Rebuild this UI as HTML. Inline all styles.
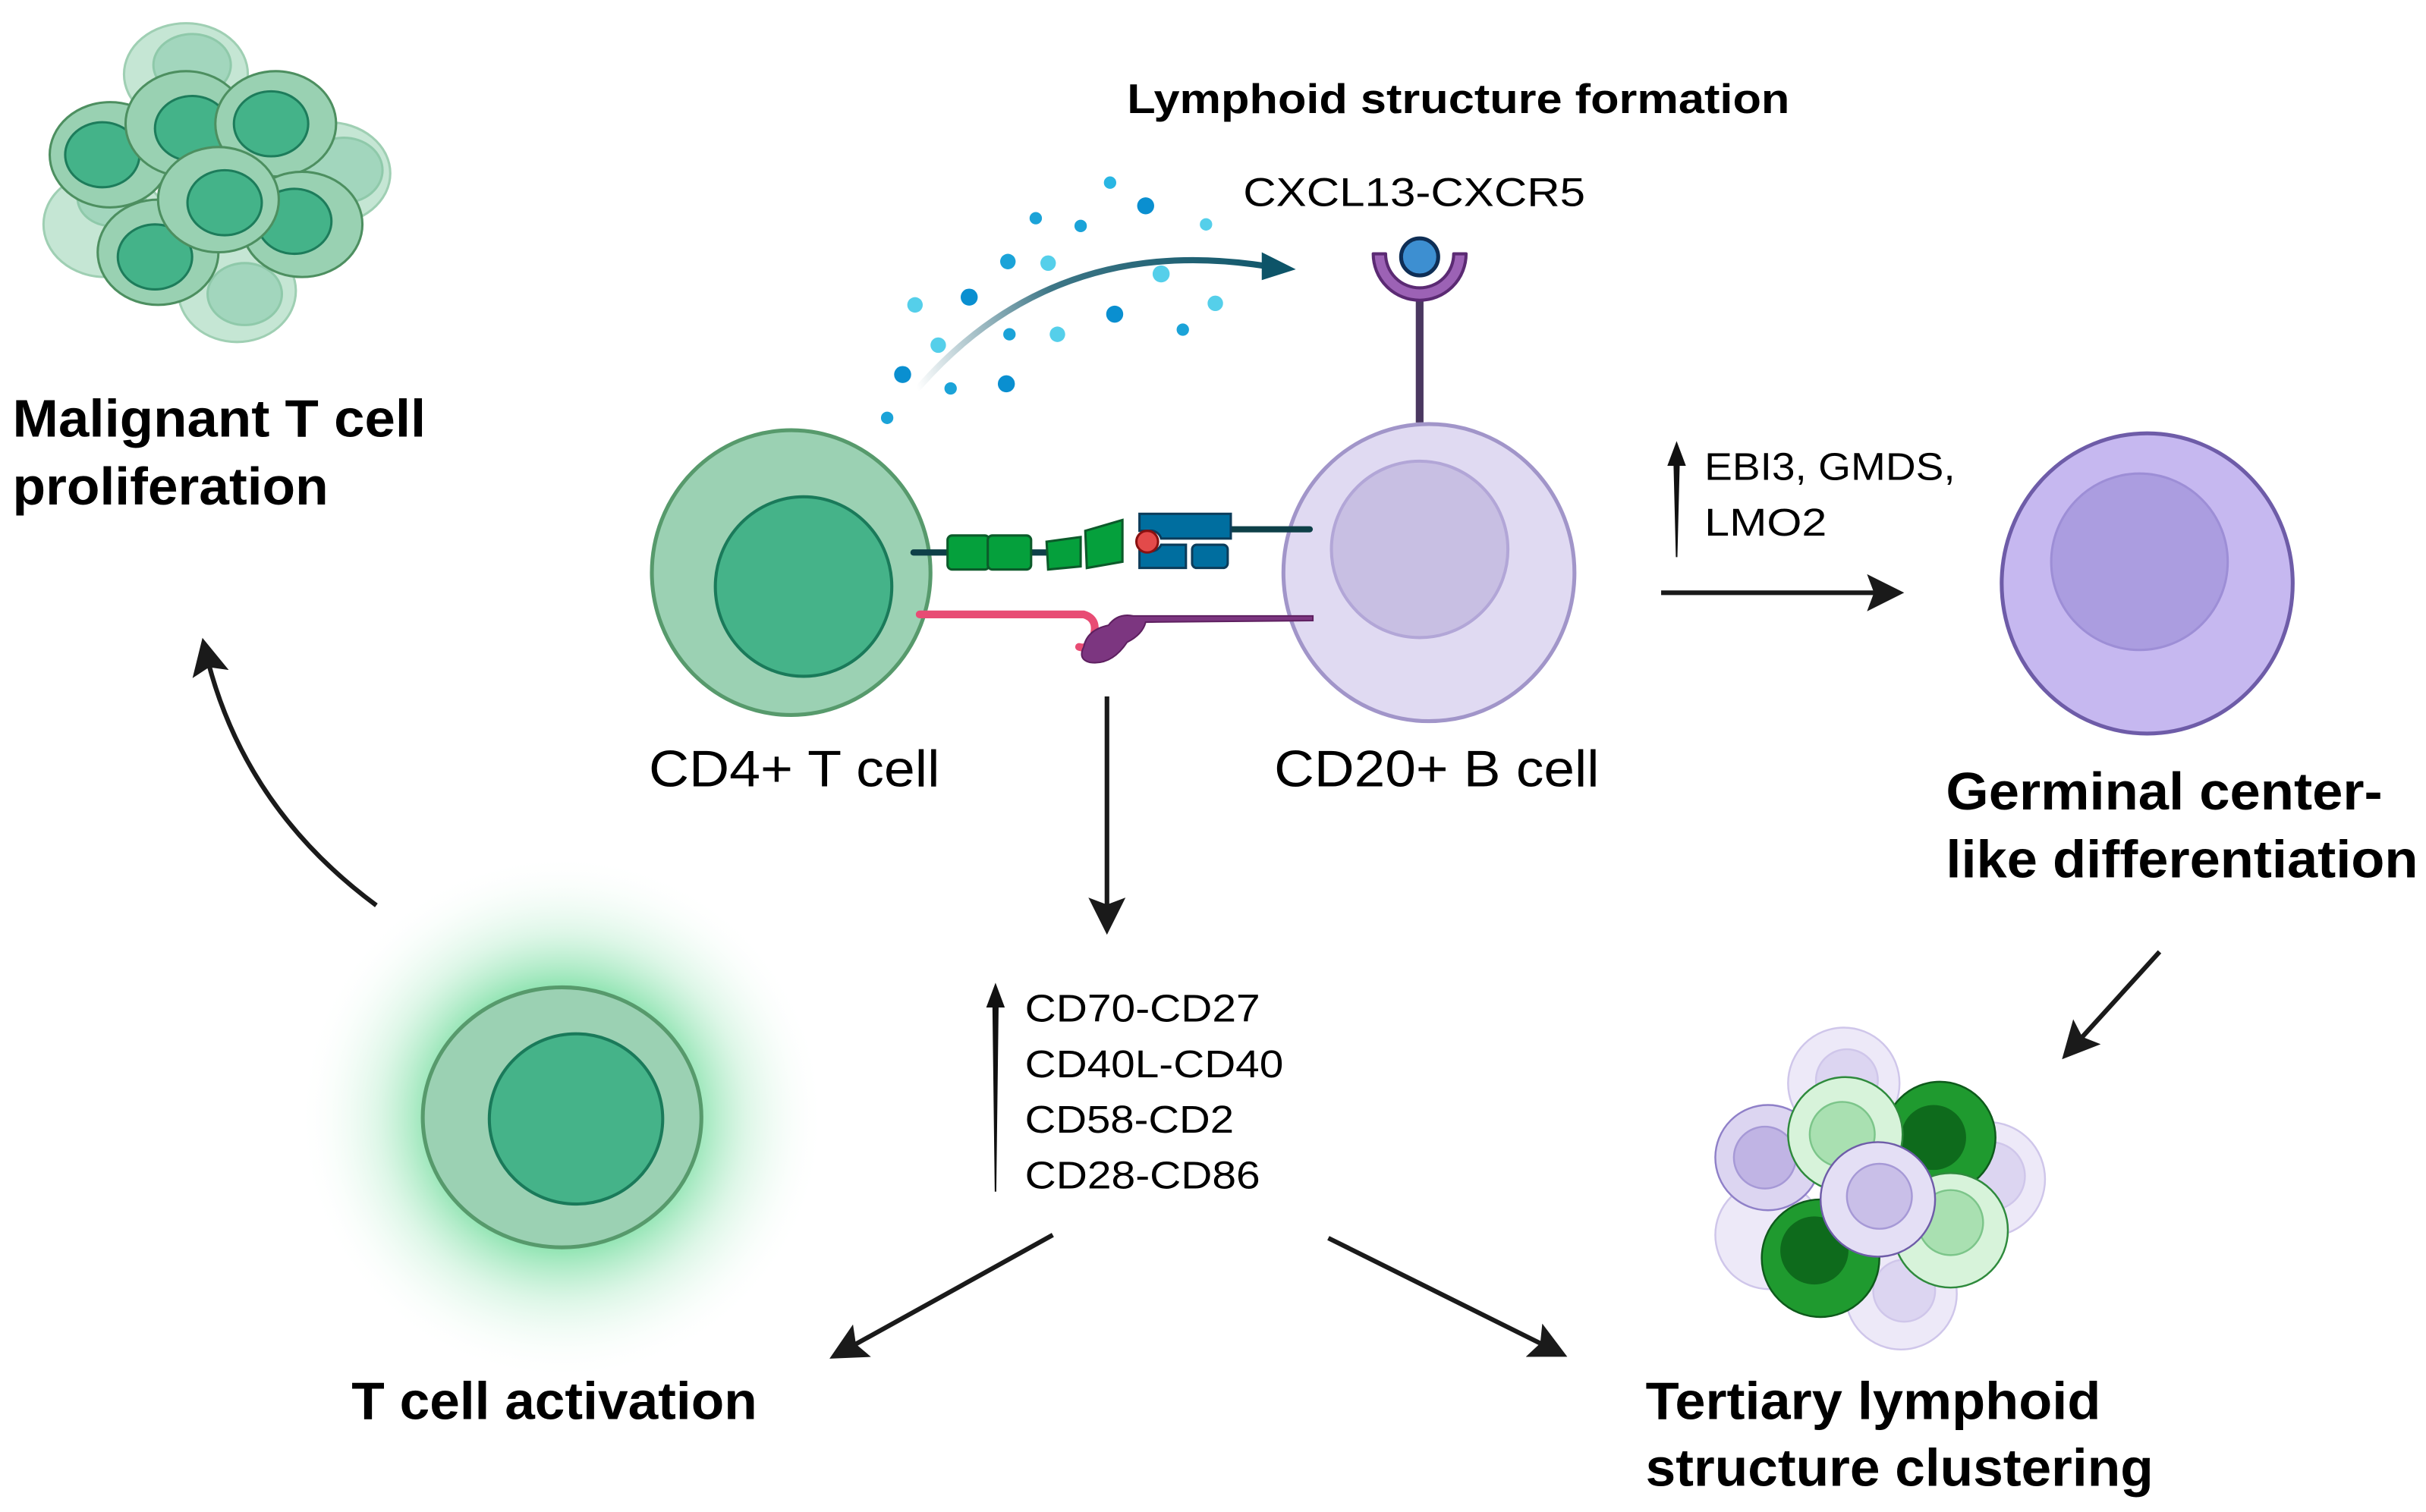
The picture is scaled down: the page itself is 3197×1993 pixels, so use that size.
<!DOCTYPE html>
<html><head><meta charset="utf-8"><style>html,body{margin:0;padding:0;background:#fff}svg{display:block}</style></head>
<body>
<svg width="3197" height="1993" viewBox="0 0 1567 977" xmlns="http://www.w3.org/2000/svg" font-family="Liberation Sans, sans-serif">
<defs>
<radialGradient id="glow" cx="0.5" cy="0.5" r="0.5">
<stop offset="0.45" stop-color="#3fd07a" stop-opacity="0.7"/>
<stop offset="0.7" stop-color="#8fe3b0" stop-opacity="0.3"/>
<stop offset="1" stop-color="#ffffff" stop-opacity="0"/>
</radialGradient>
<linearGradient id="arcg" x1="592" y1="250" x2="835" y2="172" gradientUnits="userSpaceOnUse">
<stop offset="0" stop-color="#0d5468" stop-opacity="0"/>
<stop offset="0.4" stop-color="#0d5468" stop-opacity="0.8"/>
<stop offset="1" stop-color="#0d5468"/>
</linearGradient>
<marker id="ah" markerWidth="9" markerHeight="9" refX="6" refY="4.5" orient="auto" markerUnits="strokeWidth">
<path d="M0,0.5 L8,4.5 L0,8.5 L1.5,4.5 Z" fill="#1a1a1a"/>
</marker>
</defs>

<!-- Malignant cluster -->
<g stroke-width="1.5">
<g fill="#c5e6d4" stroke="#9fcfb3">
<ellipse cx="120" cy="48" rx="40" ry="33"/><ellipse cx="212" cy="112" rx="40" ry="33"/>
<ellipse cx="68" cy="145" rx="40" ry="34"/><ellipse cx="153" cy="188" rx="38" ry="33"/>
</g>
<g fill="#a2d6bd" stroke="#8fc9aa">
<ellipse cx="124" cy="42" rx="25" ry="20"/><ellipse cx="222" cy="110" rx="25" ry="21"/>
<ellipse cx="72" cy="128" rx="22" ry="18"/><ellipse cx="158" cy="190" rx="24" ry="20"/>
</g>
<g stroke="#4d8f60">
<ellipse cx="71" cy="100" rx="39" ry="34" fill="#99d1b2"/><ellipse cx="66" cy="100" rx="24" ry="21" fill="#44b389" stroke="#1d7c5b"/>
<ellipse cx="120" cy="80" rx="39" ry="34" fill="#99d1b2"/><ellipse cx="124" cy="83" rx="24" ry="21" fill="#44b389" stroke="#1d7c5b"/>
<ellipse cx="178" cy="80" rx="39" ry="34" fill="#99d1b2"/><ellipse cx="175" cy="80" rx="24" ry="21" fill="#44b389" stroke="#1d7c5b"/>
<ellipse cx="102" cy="163" rx="39" ry="34" fill="#99d1b2"/><ellipse cx="100" cy="166" rx="24" ry="21" fill="#44b389" stroke="#1d7c5b"/>
<ellipse cx="195" cy="145" rx="39" ry="34" fill="#99d1b2"/><ellipse cx="190" cy="143" rx="24" ry="21" fill="#44b389" stroke="#1d7c5b"/>
<ellipse cx="141" cy="129" rx="39" ry="34" fill="#99d1b2"/><ellipse cx="145" cy="131" rx="24" ry="21" fill="#44b389" stroke="#1d7c5b"/>
</g>
</g>
<text x="8" y="282" font-size="34" font-weight="bold" textLength="267" lengthAdjust="spacingAndGlyphs">Malignant T cell</text>
<text x="8" y="326" font-size="34" font-weight="bold" textLength="204" lengthAdjust="spacingAndGlyphs">proliferation</text>

<!-- title -->
<text x="728" y="73" font-size="27" font-weight="bold" textLength="428" lengthAdjust="spacingAndGlyphs">Lymphoid structure formation</text>
<text x="803" y="133" font-size="26" textLength="221" lengthAdjust="spacingAndGlyphs">CXCL13-CXCR5</text>

<!-- dots -->
<g fill="#1ba3d8">
<circle cx="717" cy="118" r="4" fill="#29b6e3"/><circle cx="740" cy="133" r="5.5" fill="#0a8fd0"/><circle cx="669" cy="141" r="4"/><circle cx="698" cy="146" r="4"/><circle cx="779" cy="145" r="4" fill="#55cfea"/>
<circle cx="750" cy="177" r="5.5" fill="#55cfea"/><circle cx="651" cy="169" r="5"/><circle cx="677" cy="170" r="5" fill="#55cfea"/><circle cx="626" cy="192" r="5.5" fill="#0a8fd0"/><circle cx="591" cy="197" r="5" fill="#55cfea"/>
<circle cx="785" cy="196" r="5" fill="#55cfea"/><circle cx="720" cy="203" r="5.5" fill="#0a8fd0"/><circle cx="764" cy="213" r="4"/><circle cx="652" cy="216" r="4"/><circle cx="683" cy="216" r="5" fill="#55cfea"/>
<circle cx="606" cy="223" r="5" fill="#55cfea"/><circle cx="583" cy="242" r="5.5" fill="#0a8fd0"/><circle cx="650" cy="248" r="5.5" fill="#0a8fd0"/><circle cx="614" cy="251" r="4"/><circle cx="573" cy="270" r="4"/>
</g>
<path d="M592,252 Q680,150 818,172" fill="none" stroke="url(#arcg)" stroke-width="4"/>
<path d="M815,163 L837,174 L815,181 Z" fill="#0d5468"/>

<!-- receptor -->
<line x1="917" y1="188" x2="917" y2="273" stroke="#4a3760" stroke-width="5"/>
<path d="M887,164 A30,30 0 0 0 947,164 L939,164 A22,22 0 0 1 895,164 Z" fill="#9c62b5" stroke="#5b2a73" stroke-width="2" stroke-linejoin="round"/>
<circle cx="917" cy="166" r="12" fill="#3d8fd1" stroke="#0e2e55" stroke-width="2.5"/>

<!-- T cell -->
<ellipse cx="511" cy="370" rx="90" ry="92" fill="#9bd1b3" stroke="#579a6c" stroke-width="2.5"/>
<ellipse cx="519" cy="379" rx="57" ry="58" fill="#45b389" stroke="#1a7a5a" stroke-width="2"/>
<!-- B cell -->
<ellipse cx="923" cy="370" rx="94" ry="96" fill="#e0daf2" stroke="#a195c9" stroke-width="2.5"/>
<ellipse cx="917" cy="355" rx="57" ry="57" fill="#c8bfe3" stroke="#b2a6d7" stroke-width="2"/>

<!-- molecules -->
<line x1="590" y1="357" x2="616" y2="357" stroke="#0e4048" stroke-width="4" stroke-linecap="round"/>
<line x1="660" y1="357" x2="680" y2="357" stroke="#0e4048" stroke-width="4"/>
<g fill="#05a03c" stroke="#0c5a2a" stroke-width="1.5">
<rect x="612" y="346" width="27" height="22" rx="3"/><rect x="638" y="346" width="28" height="22" rx="3"/>
<path d="M676,350 L698,347 L698,366 L677,368 Z"/><path d="M701,343 L725,336 L725,363 L702,367 Z"/>
</g>
<line x1="795" y1="342" x2="846" y2="342" stroke="#0e4048" stroke-width="4" stroke-linecap="round"/>
<g fill="#006e9f" stroke="#0c3c5a" stroke-width="1.5">
<path d="M736,332 L795,332 L795,348 L750,348 A7,7 0 0 0 742,343 L736,343 Z"/>
<path d="M736,356 L742,356 A7,7 0 0 0 750,352 L766,352 L766,367 L736,367 Z"/>
<rect x="770" y="352" width="23" height="15" rx="3"/>
</g>
<circle cx="741" cy="350" r="7" fill="#e34a4a" stroke="#8a1010" stroke-width="1.5"/>
<path d="M594,397 L700,397 Q710,400 706,412 Q703,420 697,418" fill="none" stroke="#e84c74" stroke-width="5" stroke-linecap="round"/>
<path d="M700,418 Q702,407 716,404 Q722,396 732,398 L848,398 L848,401 L740,402 Q738,410 728,415 Q718,430 704,428 Q696,426 700,418 Z" fill="#7c3680" stroke="#5e2060" stroke-width="1"/>

<text x="419" y="508" font-size="33" textLength="188" lengthAdjust="spacingAndGlyphs">CD4+ T cell</text>
<text x="823" y="508" font-size="33" textLength="210" lengthAdjust="spacingAndGlyphs">CD20+ B cell</text>

<!-- EBI3 -->
<path d="M1082.5,360 L1081,300 L1085,300 L1083.5,360 Z" fill="#111"/>
<path d="M1077,301 L1083,285 L1089,301 Z" fill="#111"/>
<text x="1101" y="310" font-size="25" textLength="162" lengthAdjust="spacingAndGlyphs">EBI3, GMDS,</text>
<text x="1101" y="346" font-size="25" textLength="79" lengthAdjust="spacingAndGlyphs">LMO2</text>
<line x1="1073" y1="383" x2="1224" y2="383" stroke="#1a1a1a" stroke-width="3" marker-end="url(#ah)"/>

<!-- germinal -->
<ellipse cx="1387" cy="377" rx="94" ry="97" fill="#c6b8f0" stroke="#6e5ca8" stroke-width="2.5"/>
<ellipse cx="1382" cy="363" rx="57" ry="57" fill="#ab9de0" stroke="#9d8ed6" stroke-width="1.5"/>
<text x="1257" y="523" font-size="34" font-weight="bold" textLength="282" lengthAdjust="spacingAndGlyphs">Germinal center-</text>
<text x="1257" y="567" font-size="34" font-weight="bold" textLength="305" lengthAdjust="spacingAndGlyphs">like differentiation</text>
<line x1="1395" y1="615" x2="1336" y2="680" stroke="#1a1a1a" stroke-width="3" marker-end="url(#ah)"/>

<!-- TLS cluster -->
<g stroke-width="1.2">
<g fill="#ede9f8" stroke="#cfc6ea">
<circle cx="1191" cy="700" r="36"/><circle cx="1284" cy="762" r="37"/><circle cx="1143" cy="798" r="35"/><circle cx="1228" cy="836" r="36"/>
</g>
<g fill="#dcd5f1" stroke="#cfc6ea">
<circle cx="1193" cy="698" r="20"/><circle cx="1286" cy="760" r="22"/><circle cx="1230" cy="834" r="20"/>
</g>
<circle cx="1142" cy="748" r="34" fill="#dcd5f1" stroke="#8f80c8"/><circle cx="1140" cy="748" r="20" fill="#c0b4e4" stroke="#a699d6"/>
<circle cx="1253" cy="735" r="36" fill="#1f9a2f" stroke="#0e5a1b"/><circle cx="1249" cy="735" r="21" fill="#0e6b1c"/>
<circle cx="1192" cy="733" r="37" fill="#d7f3da" stroke="#2e8a3c"/><circle cx="1190" cy="733" r="21" fill="#a9e0b1" stroke="#7cc58a"/>
<circle cx="1176" cy="813" r="38" fill="#1f9a2f" stroke="#0e5a1b"/><circle cx="1172" cy="808" r="22" fill="#0e6b1c"/>
<circle cx="1260" cy="795" r="37" fill="#d7f3da" stroke="#2e8a3c"/><circle cx="1260" cy="790" r="21" fill="#a9e0b1" stroke="#7cc58a"/>
<circle cx="1213" cy="775" r="37" fill="#e4dff5" stroke="#6e5ca8"/><circle cx="1214" cy="773" r="21" fill="#c9bfe8" stroke="#a699d6"/>
</g>

<!-- center arrows -->
<line x1="715" y1="450" x2="715" y2="598" stroke="#1a1a1a" stroke-width="3" marker-end="url(#ah)"/>
<path d="M642.5,770 L641,650 L645,650 L643.5,770 Z" fill="#111"/>
<path d="M637,651 L643,635 L649,651 Z" fill="#111"/>
<g font-size="25">
<text x="662" y="660" textLength="152" lengthAdjust="spacingAndGlyphs">CD70-CD27</text>
<text x="662" y="696" textLength="167" lengthAdjust="spacingAndGlyphs">CD40L-CD40</text>
<text x="662" y="732" textLength="135" lengthAdjust="spacingAndGlyphs">CD58-CD2</text>
<text x="662" y="768" textLength="152" lengthAdjust="spacingAndGlyphs">CD28-CD86</text>
</g>
<line x1="680" y1="798" x2="541" y2="875" stroke="#1a1a1a" stroke-width="3" marker-end="url(#ah)"/>
<line x1="858" y1="800" x2="1007" y2="874" stroke="#1a1a1a" stroke-width="3" marker-end="url(#ah)"/>

<!-- glow cell -->
<circle cx="363" cy="722" r="170" fill="url(#glow)"/>
<ellipse cx="363" cy="722" rx="90" ry="84" fill="#9bd1b3" stroke="#579a6c" stroke-width="2.5"/>
<ellipse cx="372" cy="723" rx="56" ry="55" fill="#45b389" stroke="#1a7a5a" stroke-width="2"/>
<text x="227" y="917" font-size="34" font-weight="bold" textLength="262" lengthAdjust="spacingAndGlyphs">T cell activation</text>
<text x="1063" y="917" font-size="34" font-weight="bold" textLength="294" lengthAdjust="spacingAndGlyphs">Tertiary lymphoid</text>
<text x="1063" y="960" font-size="34" font-weight="bold" textLength="328" lengthAdjust="spacingAndGlyphs">structure clustering</text>

<path d="M243,585 Q155,520 132,418" fill="none" stroke="#1a1a1a" stroke-width="3" marker-end="url(#ah)"/>
</svg>
</body></html>
